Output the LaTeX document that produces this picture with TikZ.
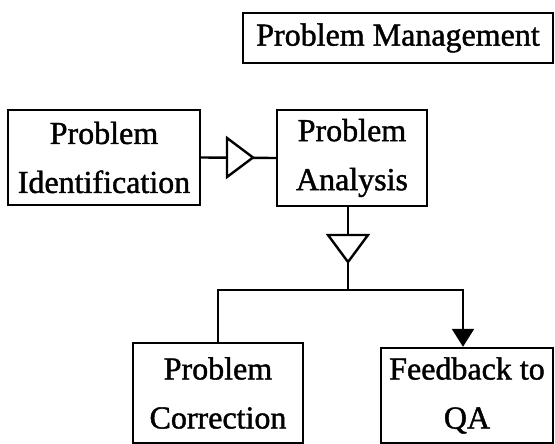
\documentclass[tikz,border=0pt]{standalone}
\usepackage{fontspec}
\setmainfont{Liberation Serif}[BoldFont={Liberation Serif},BoldFeatures={FakeBold=1.3}]
\usetikzlibrary{arrows.meta}
\begin{document}
\begin{tikzpicture}[x=1pt,y=-1pt,
  box/.style={draw, line width=2.4pt, inner sep=0pt, align=center,
    font=\fontsize{32}{49}\selectfont\bfseries},
  conn/.style={line width=2.4pt},
  hollow/.style={line width=2.4pt, fill=white, line join=miter}]
\useasboundingbox[fill=white] (0,0) rectangle (555,444);
\node[box, minimum width=310, minimum height=50] (pm) at (398,38) {Problem Management};
\node[box, minimum width=192, minimum height=95] (pi) at (104,157.5) {Problem\\Identification};
\node[box, minimum width=150, minimum height=96] (pa) at (352,158) {Problem\\Analysis};
\node[box, minimum width=170, minimum height=100] (pc) at (218,393) {Problem\\Correction};
\node[box, minimum width=172, minimum height=95] (fb) at (467,395.5) {Feedback to\\QA};
\coordinate (j) at (348,290);
% connector identification -> analysis with hollow triangle
\draw[conn] (pi.east) -- (pa.west);
\coordinate (t1) at (227,157.5);
\draw[hollow] (t1) ++(0,-19.5) -- ++(26,19.5) -- ++(-26,19.5) -- cycle;
% analysis down to junction with hollow triangle
\draw[conn] (pa.south -| j) -- (j);
\coordinate (t2) at (348,235);
\draw[hollow] (t2) ++(-20,0) -- ++(40,0) -- ++(-20,27) -- cycle;
% branches
\draw[conn] (pc.north) |- (j);
\draw[conn, -{Triangle[length=18pt,width=22pt]}] (j) -| ([xshift=-4pt]fb.north);
\end{tikzpicture}
\end{document}
